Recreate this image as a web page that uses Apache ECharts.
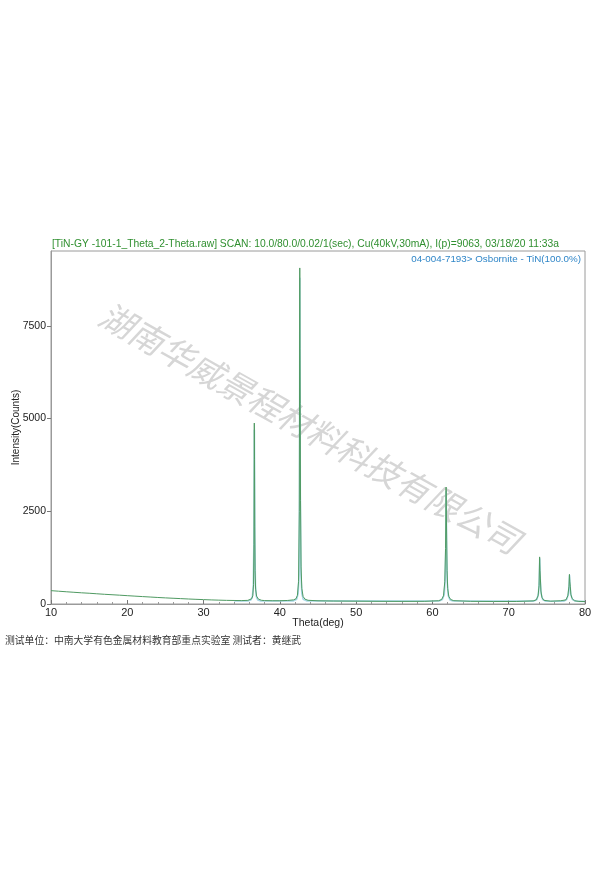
<!DOCTYPE html>
<html>
<head>
<meta charset="utf-8">
<script src="https://cdn.jsdelivr.net/npm/echarts@6/dist/echarts.min.js"></script>
<style>
  html, body { margin: 0; padding: 0; background: #fff; }
  #chart { width: 600px; height: 875px; }
</style>
</head>
<body>
<div id="chart"></div>
<script>
// X-ray diffraction scan: [2theta, counts]
var background = [
  [10, 360], [11, 345], [12, 330], [13, 316], [14, 302], [15, 290], [16, 276], [17, 262],
  [18, 250], [19, 238], [20, 225], [21, 212], [22, 200], [23, 188], [24, 176], [25, 165],
  [26, 155], [27, 145], [28, 135], [29, 126], [30, 118], [31, 110], [32, 104], [33, 98],
  [34, 95], [35, 92], [35.8, 98],
  [38, 92], [39, 88], [40, 88], [41, 95], [41.8, 112],
  [45, 86], [47, 80], [50, 76], [53, 72], [56, 70], [59, 72], [60.8, 88],
  [65, 72], [68, 68], [71, 68], [73.2, 84],
  [75.5, 76], [76.8, 88],
  [79.2, 70], [80, 66]
];
var peak111 = [
  [36.0, 105], [36.3, 140], [36.45, 220], [36.55, 520], [36.61, 1600], [36.65, 4880],
  [36.68, 3900], [36.71, 2100], [36.75, 900], [36.82, 400], [36.95, 210], [37.2, 130], [37.6, 100]
];
var peak200 = [
  [42.1, 140], [42.3, 230], [42.45, 600], [42.55, 2500], [42.61, 9063], [42.64, 6900],
  [42.67, 5400], [42.71, 2800], [42.78, 1000], [42.88, 420], [43.05, 200], [43.3, 130], [43.7, 100]
];
var peak220 = [
  [61.2, 120], [61.45, 220], [61.62, 600], [61.72, 1500], [61.79, 3155], [61.83, 2400],
  [61.87, 1700], [61.92, 900], [62.0, 420], [62.15, 200], [62.4, 120], [62.8, 90]
];
var peak311 = [
  [73.6, 110], [73.85, 220], [73.98, 500], [74.05, 1270], [74.1, 900], [74.15, 700],
  [74.22, 350], [74.35, 180], [74.6, 100]
];
var peak222 = [
  [77.5, 110], [77.75, 220], [77.9, 480], [77.96, 800], [78.01, 600], [78.07, 480],
  [78.15, 260], [78.3, 150], [78.6, 90]
];

// fitted profile (light blue)
var calcProfile = [
  [34, 80], [35.8, 82], [36.2, 110], [36.4, 200], [36.52, 500], [36.6, 1800], [36.66, 4700],
  [36.72, 1800], [36.8, 500], [36.92, 200], [37.1, 110], [37.5, 82],
  [41.8, 85], [42.2, 130], [42.4, 280], [42.52, 800], [42.58, 3000], [42.62, 8800],
  [42.68, 3000], [42.76, 800], [42.88, 280], [43.05, 130], [43.5, 85],
  [60.9, 80], [61.3, 120], [61.55, 260], [61.68, 700], [61.75, 1500], [61.8, 3050],
  [61.86, 1500], [61.94, 600], [62.06, 240], [62.3, 110], [62.7, 80],
  [73.3, 78], [73.7, 120], [73.9, 280], [74.0, 620], [74.07, 1230], [74.14, 620],
  [74.25, 280], [74.45, 120], [74.8, 78],
  [77.2, 76], [77.6, 120], [77.82, 260], [77.92, 520], [77.97, 780], [78.03, 520],
  [78.13, 260], [78.35, 120], [78.8, 76], [80, 70]
];

var yTicks = [0, 2500, 5000, 7500];

var observed = background.concat(peak111, peak200, peak220, peak311, peak222)
  .sort(function (a, b) { return a[0] - b[0]; });

var chart = echarts.init(document.getElementById('chart'));

var option = {
  backgroundColor: '#fff',
  animation: false,
  grid: {
    left: 51, right: 15, top: 251, bottom: 271,
    outerBoundsMode: 'none',
    containLabel: false,
    show: true, borderColor: '#9a9a9a', borderWidth: 1
  },
  xAxis: {
    type: 'value',
    min: 10, max: 80, interval: 10,
    name: 'Theta(deg)',
    nameLocation: 'middle',
    nameGap: 14,
    nameMoveOverlap: false,
    nameTextStyle: { color: '#222', fontSize: 10.5, fontFamily: 'Liberation Sans' },
    axisLine: { lineStyle: { color: '#9a9a9a' } },
    axisTick: { inside: true, length: 4, lineStyle: { color: '#777' } },
    minorTick: { show: true, splitNumber: 5, length: 2, lineStyle: { color: '#999' } },
    axisLabel: { color: '#222', fontSize: 11, fontFamily: 'Liberation Sans', margin: 3 },
    splitLine: { show: false }
  },
  yAxis: {
    type: 'value',
    min: 0, max: 9520, interval: 2500,
    name: 'Intensity(Counts)',
    nameLocation: 'middle',
    nameGap: 30,
    nameMoveOverlap: false,
    nameTextStyle: { color: '#222', fontSize: 10, fontFamily: 'Liberation Sans' },
    axisLine: { show: true, lineStyle: { color: '#9a9a9a' } },
    axisTick: { show: true, length: 4, lineStyle: { color: '#777' } },
    axisLabel: {
      color: '#222', fontSize: 10.5, fontFamily: 'Liberation Sans', margin: 5,
      showMaxLabel: false,
      formatter: function (v) { return yTicks.indexOf(v) >= 0 ? String(v) : ''; }
    },
    splitLine: { show: false }
  },
  title: [
    {
      text: '[TiN-GY -101-1_Theta_2-Theta.raw] SCAN: 10.0/80.0/0.02/1(sec), Cu(40kV,30mA), I(p)=9063, 03/18/20 11:33a',
      left: 52, top: 239,
      padding: 0,
      textStyle: { color: '#2f8f2f', fontSize: 10.3, fontWeight: 'normal', fontFamily: 'Liberation Sans' }
    },
    {
      text: '04-004-7193> Osbornite - TiN(100.0%)',
      right: 19, top: 254,
      padding: 0,
      textStyle: { color: '#2f86c8', fontSize: 9.8, fontWeight: 'normal', fontFamily: 'Liberation Sans' }
    }
  ],
  graphic: [
    {
      type: 'text',
      x: 310, y: 428,
      rotation: -0.51,
      silent: true,
      z: 0,
      style: {
        text: '湖南华威景程材料科技有限公司',
        font: 'italic 34px "Noto Sans CJK SC"',
        fill: '#d6d6d6',
        align: 'center',
        verticalAlign: 'middle'
      }
    },
    {
      type: 'text',
      left: 5, top: 635,
      silent: true,
      style: {
        text: '测试单位：中南大学有色金属材料教育部重点实验室 测试者：黄继武',
        font: '9.8px "Noto Sans CJK SC"',
        fill: '#333'
      }
    }
  ],
  series: [
    {
      name: 'calc',
      type: 'line',
      data: calcProfile,
      showSymbol: false,
      z: 2,
      lineStyle: { color: '#a9d8e6', width: 1.6 }
    },
    {
      name: 'observed',
      type: 'line',
      data: observed,
      showSymbol: false,
      z: 3,
      lineStyle: { color: '#4f9a62', width: 1 }
    }
  ]
};

chart.setOption(option);
</script>
</body>
</html>
